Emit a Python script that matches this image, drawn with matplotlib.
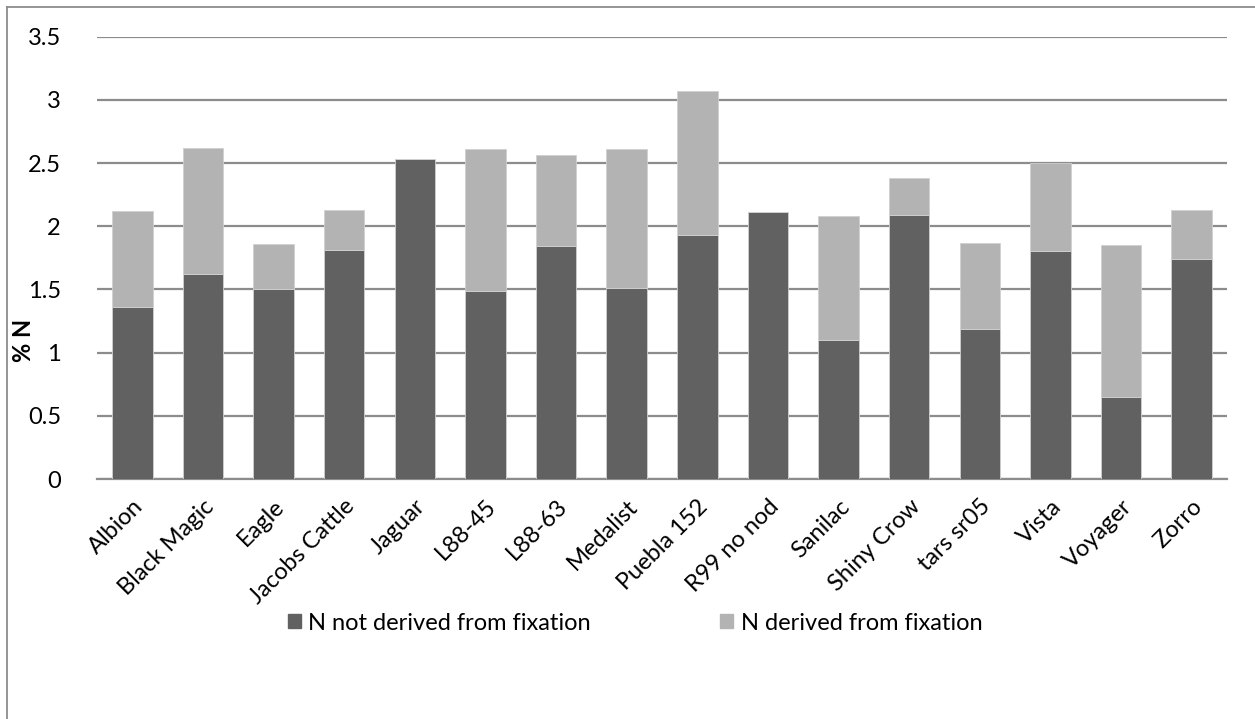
import matplotlib
matplotlib.use("Agg")
import matplotlib.pyplot as plt
from matplotlib.lines import Line2D
from matplotlib.patches import Patch
import numpy as np

plt.rcParams["font.family"] = ["Lato", "DejaVu Sans"]

varieties = ["Albion", "Black Magic", "Eagle", "Jacobs Cattle", "Jaguar",
             "L88-45", "L88-63", "Medalist", "Puebla 152", "R99 no nod",
             "Sanilac", "Shiny Crow", "tars sr05", "Vista", "Voyager", "Zorro"]
# N not derived from fixation (dark part)
n_not_fixed = [1.36, 1.62, 1.50, 1.81, 2.53, 1.49, 1.84, 1.51, 1.93, 2.11,
               1.10, 2.09, 1.19, 1.80, 0.65, 1.74]
# total bar height (dark + light)
n_total = [2.12, 2.62, 1.86, 2.13, 2.53, 2.61, 2.56, 2.61, 3.07, 2.11,
           2.08, 2.38, 1.87, 2.50, 1.85, 2.13]
n_fixed = [t - d for t, d in zip(n_total, n_not_fixed)]

DARK = "#616161"
LIGHT = "#b3b3b3"
GRID = "#8c8c8c"
FS = 17

W, H = 1255, 719
fig = plt.figure(figsize=(W / 100, H / 100), dpi=100)
ax = fig.add_axes([97 / W, 1 - 479 / H, (1227 - 97) / W, (479 - 36.6) / H])

x = np.arange(len(varieties))
ax.bar(x, n_not_fixed, width=0.575, color=DARK, zorder=3,
       edgecolor="#d0d0d0", linewidth=0.6,
       label="N not derived from fixation")
ax.bar(x, n_fixed, width=0.575, bottom=n_not_fixed, color=LIGHT, zorder=3,
       edgecolor="#d0d0d0", linewidth=0.6,
       label="N derived from fixation")

ax.set_xlim(-0.5, len(varieties) - 0.5)
ax.set_ylim(0, 3.5)
ax.set_yticks(np.arange(0, 3.51, 0.5))
ax.set_yticklabels(["0", "0.5", "1", "1.5", "2", "2.5", "3", "3.5"])
ax.yaxis.grid(True, color=GRID, linewidth=1.6, zorder=0)
ax.set_axisbelow(True)
for s in ["top", "right", "left"]:
    ax.spines[s].set_visible(False)
ax.spines["bottom"].set_color(GRID)
ax.spines["bottom"].set_linewidth(1.6)
ax.tick_params(axis="y", length=0, pad=26, labelsize=FS)
ax.tick_params(axis="x", length=0, pad=12, labelsize=FS)
ax.set_xticks(x)
ax.set_xticklabels(varieties, rotation=45, ha="right", rotation_mode="anchor")

# y label sits level with the "1" tick, left of it
ax.set_ylabel("% N", fontsize=FS, fontweight="bold", labelpad=0)
ax.yaxis.set_label_coords(-62 / (1227 - 97), 1.1 / 3.5)

handles = [Patch(color=DARK), Patch(color=LIGHT)]
fig.legend(handles, ["N not derived from fixation", "N derived from fixation"],
           loc="center", bbox_to_anchor=(0.506, 1 - 623 / H), ncol=2,
           frameon=False, fontsize=FS, handlelength=0.55, handleheight=0.55,
           handletextpad=0.3, columnspacing=5.5)

# chart area border (only left/top edge visible in the crop)
fig.add_artist(Line2D([7 / W, 7 / W], [0, 1 - 7 / H], color="#8c8c8c", lw=1.3))
fig.add_artist(Line2D([7 / W, 1], [1 - 7 / H, 1 - 7 / H], color="#8c8c8c", lw=1.3))

fig.savefig("out.png", dpi=100)
